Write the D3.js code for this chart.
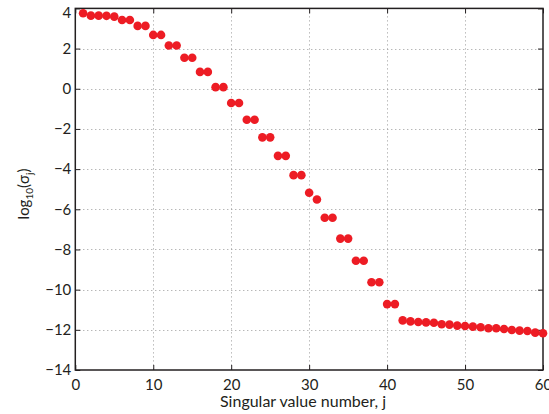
<!DOCTYPE html>
<html>
<head>
<meta charset="utf-8">
<script src="https://cdn.jsdelivr.net/npm/d3@7"></script>
<style>
  html, body { margin: 0; padding: 0; background: #fff; }
  svg { display: block; }
  text { font-family: Lato, "Open Sans", sans-serif; fill: #231f20; }
</style>
</head>
<body>
<svg id="chart" width="549" height="414"></svg>
<script>
// Singular value index j and log10 of each singular value
const jIndex = d3.range(1, 61);
const logSigma = [
  3.76, 3.64, 3.64, 3.63, 3.59, 3.42, 3.42, 3.13, 3.13, 2.68,
  2.68, 2.15, 2.15, 1.54, 1.54, 0.84, 0.84, 0.08, 0.08, -0.71,
  -0.71, -1.54, -1.54, -2.42, -2.42, -3.34, -3.34, -4.30, -4.30, -5.18,
  -5.51, -6.42, -6.42, -7.46, -7.46, -8.56, -8.56, -9.63, -9.63, -10.72,
  -10.72, -11.53, -11.58, -11.61, -11.63, -11.65, -11.72, -11.74, -11.79, -11.81,
  -11.84, -11.87, -11.92, -11.92, -11.96, -12.01, -12.04, -12.06, -12.14, -12.17
];
const xTicks = [0, 10, 20, 30, 40, 50, 60];
const yTicks = [4, 2, 0, -2, -4, -6, -8, -10, -12, -14];

const svg = d3.select("#chart");
const plotL = 75.3, plotR = 543, plotT = 8.4, plotB = 370;

const x = d3.scaleLinear().domain([0, 60]).range([plotL, plotR]);
const y = d3.scaleLinear().domain([-14, 4]).range([plotB, plotT]);

const fmt = v => (v < 0 ? "\u2212" + Math.abs(v) : String(v));

// dotted grid
const grid = svg.append("g").attr("stroke", "#999").attr("stroke-width", 1)
  .attr("stroke-dasharray", "1,3");
grid.selectAll("line.gx").data(xTicks.slice(1, -1)).join("line")
  .attr("x1", d => Math.round(x(d)) + 0.5).attr("x2", d => Math.round(x(d)) + 0.5)
  .attr("y1", plotT).attr("y2", plotB);
grid.selectAll("line.gy").data(yTicks.slice(1, -1)).join("line")
  .attr("y1", d => Math.round(y(d)) + 0.5).attr("y2", d => Math.round(y(d)) + 0.5)
  .attr("x1", plotL).attr("x2", plotR);

// axes with inward ticks on all four sides
const tickLen = 5;
const axisStyle = g => {
  g.select(".domain").remove();
  g.selectAll(".tick line").attr("stroke", "#231f20").attr("stroke-width", 1);
  g.selectAll(".tick text").attr("font-size", 15).attr("fill", "#231f20")
    .style("font-family", "Lato, 'Open Sans', sans-serif");
};

svg.append("g").attr("transform", `translate(0,${plotB})`)
  .call(d3.axisBottom(x).tickValues(xTicks).tickFormat(fmt).tickSizeInner(-tickLen).tickSizeOuter(0).tickPadding(9))
  .call(axisStyle);
svg.append("g").attr("transform", `translate(0,${plotT})`)
  .call(d3.axisTop(x).tickValues(xTicks).tickFormat("").tickSizeInner(-tickLen).tickSizeOuter(0))
  .call(axisStyle);
const yAxisG = svg.append("g").attr("transform", `translate(${plotL},0)`)
  .call(d3.axisLeft(y).tickValues(yTicks).tickFormat(fmt).tickSizeInner(-tickLen).tickSizeOuter(0).tickPadding(4))
  .call(axisStyle);
// keep the top label inside the page
yAxisG.selectAll(".tick text").filter(d => d === 4).attr("dy", "0.62em");
svg.append("g").attr("transform", `translate(${plotR},0)`)
  .call(d3.axisRight(y).tickValues(yTicks).tickFormat("").tickSizeInner(-tickLen).tickSizeOuter(0))
  .call(axisStyle);

// plot frame
svg.append("rect")
  .attr("x", plotL).attr("y", plotT)
  .attr("width", plotR - plotL).attr("height", plotB - plotT)
  .attr("fill", "none").attr("stroke", "#231f20").attr("stroke-width", 1.5);

// singular values
svg.append("g").selectAll("circle").data(jIndex).join("circle")
  .attr("cx", d => x(d))
  .attr("cy", (d, i) => y(logSigma[i]))
  .attr("r", 4.3)
  .attr("fill", "#ed1c24");

// axis titles
svg.append("text")
  .attr("x", 303).attr("y", 407)
  .attr("text-anchor", "middle").attr("font-size", 16)
  .text("Singular value number, j");

const yl = svg.append("text")
  .attr("transform", `translate(29,194) rotate(-90)`)
  .attr("text-anchor", "middle").attr("font-size", 15);
yl.append("tspan").text("log");
yl.append("tspan").attr("font-size", 10).attr("dy", 4).text("10");
yl.append("tspan").attr("dy", -4).text("(\u03c3");
yl.append("tspan").attr("font-size", 10).attr("dy", 4).text("j");
yl.append("tspan").attr("dy", -4).text(")");
</script>
</body>
</html>
